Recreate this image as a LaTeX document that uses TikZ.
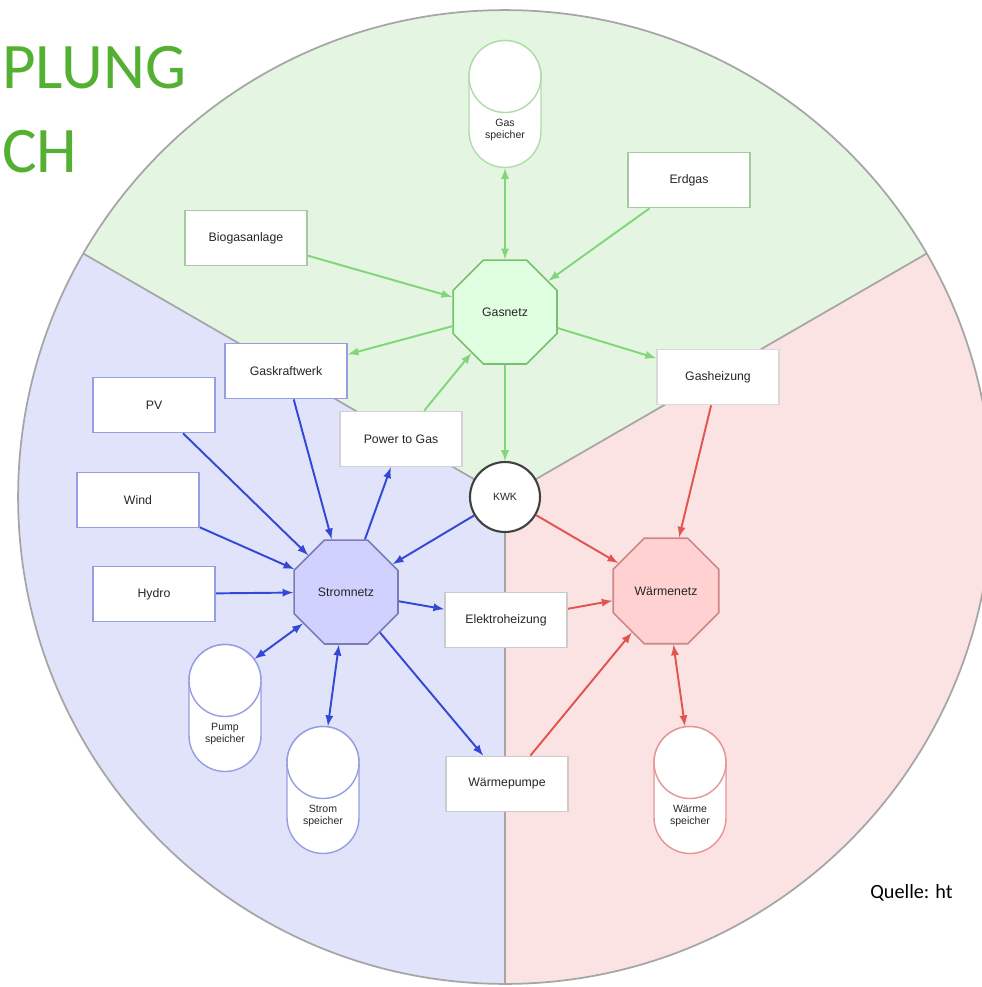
\documentclass[tikz,border=0pt]{standalone}
\usepackage{fontspec}
\setmainfont{Liberation Sans}
\newfontfamily\titelfont{Carlito}
\usetikzlibrary{shapes.geometric,arrows}

\definecolor{gruenbg}{RGB}{228,246,226}
\definecolor{blaubg}{RGB}{224,227,250}
\definecolor{rotbg}{RGB}{252,227,227}
\definecolor{gruenpf}{RGB}{130,214,122}
\definecolor{blaupf}{RGB}{52,72,214}
\definecolor{rotpf}{RGB}{226,84,80}
\definecolor{gruenrand}{RGB}{176,220,170}
\definecolor{blaurand}{RGB}{150,158,226}
\definecolor{rotrand}{RGB}{228,150,150}
\definecolor{titelgruen}{RGB}{84,176,50}

\begin{document}
\begin{tikzpicture}[x=0.02cm,y=-0.02cm,>=latex,
    box/.style={draw=gray!35,line width=1pt,fill=white,minimum width=2.44cm,
        minimum height=1.1cm,font=\fontsize{7}{8}\selectfont,text=black!85},
    netz/.style={regular polygon,regular polygon sides=8,minimum size=2.25cm,
        line width=0.9pt,font=\fontsize{7}{8}\selectfont,text=black!85},
    speicher/.style={draw,fill=white,rounded corners=0.72cm,minimum width=1.44cm,
        minimum height=2.54cm,line width=0.8pt},
    kopf/.style={circle,draw,fill=white,minimum size=1.44cm,inner sep=0pt,line width=0.8pt},
    slabel/.style={align=center,font=\fontsize{6}{7}\selectfont,text=black!85},
    gaspf/.style={gruenpf,line width=1.1pt},
    strompf/.style={blaupf,line width=1.1pt},
    waermepf/.style={rotpf,line width=1.1pt}]

    \useasboundingbox (0,0) rectangle (982,987);
    \clip (0,0) rectangle (982,987);
    \fill[white] (0,0) rectangle (982,987);

    % Sektoren
    \coordinate (mitte) at (505,497);
    \fill[gruenbg] (mitte) -- ++(150:9.74cm) arc[start angle=150,end angle=30,radius=9.74cm] -- cycle;
    \fill[rotbg] (mitte) -- ++(30:9.74cm) arc[start angle=30,end angle=-90,radius=9.74cm] -- cycle;
    \fill[blaubg] (mitte) -- ++(270:9.74cm) arc[start angle=270,end angle=150,radius=9.74cm] -- cycle;
    \draw[gray!70,line width=1pt] (mitte) circle[radius=9.74cm];
    \foreach \w in {30,150,270}
        \draw[gray!70,line width=1pt] (mitte) -- ++(\w:9.74cm);

    % Titel und Quelle
    \node[anchor=base west,inner sep=0pt,text=titelgruen,font=\titelfont\fontsize{37}{40}\selectfont] (titel1) at (2,88) {PLUNG};
    \node[anchor=base west,inner sep=0pt,text=titelgruen,font=\titelfont\fontsize{37}{40}\selectfont] (titel2) at (2,172) {CH};
    \node[anchor=base west,inner sep=0pt,font=\titelfont\fontsize{11.5}{13}\selectfont] (quelle) at (870,898) {Quelle: ht};

    % Gas
    \node[speicher,draw=gruenrand] (gsp) at (505,104) {};
    \node[kopf,draw=gruenrand,anchor=north] (gspk) at (gsp.north) {};
    \node[slabel] at (505,130) {Gas\\speicher};
    \node[box,draw=gruenrand!80!gray] (erdgas) at (689,180) {Erdgas};
    \node[box,draw=gruenrand!80!gray] (biogas) at (246,238) {Biogasanlage};
    \node[netz,draw=gruenpf!90!black,fill=green!12] (gnetz) at (505,312) {Gasnetz};
    \node[box,draw=gray!30] (gheiz) at (718,377) {Gasheizung};

    % Strom
    \node[box,draw=blaurand] (gkw) at (286,371) {Gaskraftwerk};
    \node[box,draw=blaurand] (pv) at (154,405) {PV};
    \node[box,draw=gray!35] (ptg) at (401,439) {Power to Gas};
    \node[box,draw=blaurand] (wind) at (138,500) {Wind};
    \node[box,draw=blaurand] (hydro) at (154,594) {Hydro};
    \node[netz,draw=blaurand!80!black,fill=blue!18] (snetz) at (346,592) {Stromnetz};
    \node[speicher,draw=blaurand] (psp) at (225,708) {};
    \node[kopf,draw=blaurand,anchor=north] (pspk) at (psp.north) {};
    \node[slabel] at (225,734) {Pump\\speicher};
    \node[speicher,draw=blaurand] (ssp) at (323,790) {};
    \node[kopf,draw=blaurand,anchor=north] (sspk) at (ssp.north) {};
    \node[slabel] at (323,816) {Strom\\speicher};

    % KWK
    \node[circle,draw=black!75,line width=1.2pt,fill=white,minimum size=1.4cm,
        font=\fontsize{6}{7}\selectfont,text=black!85] (kwk) at (mitte) {KWK};

    % Waerme
    \node[box,draw=gray!40] (eheiz) at (506,620) {Elektroheizung};
    \node[box,draw=gray!40] (wpumpe) at (507,784) {Wärmepumpe};
    \node[netz,draw=rotrand!90!black,fill=red!18] (wnetz) at (666,591) {Wärmenetz};
    \node[speicher,draw=rotrand] (wsp) at (690,790) {};
    \node[kopf,draw=rotrand,anchor=north] (wspk) at (wsp.north) {};
    \node[slabel] at (690,816) {Wärme\\speicher};

    % Gaspfeile
    \draw[gaspf,<->] (gsp) -- (gnetz);
    \draw[gaspf,->] (erdgas) -- (gnetz);
    \draw[gaspf,->] (biogas) -- (gnetz);
    \draw[gaspf,->] (gnetz) -- (gkw);
    \draw[gaspf,->] (gnetz) -- (gheiz);
    \draw[gaspf,->] (ptg) -- (gnetz);
    \draw[gaspf,->] (gnetz) -- (kwk);

    % Strompfeile
    \foreach \q in {pv,wind,hydro,gkw,kwk}
        \draw[strompf,->] (\q) -- (snetz);
    \foreach \z in {ptg,eheiz,wpumpe}
        \draw[strompf,->] (snetz) -- (\z);
    \draw[strompf,<->] (snetz) -- (pspk);
    \draw[strompf,<->] (snetz) -- (sspk);

    % Waermepfeile
    \foreach \q in {gheiz,kwk,eheiz,wpumpe}
        \draw[waermepf,->] (\q) -- (wnetz);
    \draw[waermepf,<->] (wnetz) -- (wspk);
\end{tikzpicture}
\end{document}
